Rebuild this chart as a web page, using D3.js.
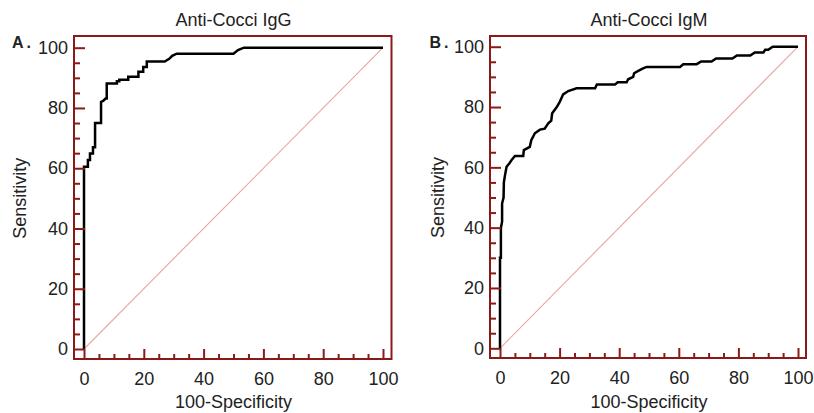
<!DOCTYPE html>
<html>
<head>
<meta charset="utf-8">
<script src="https://cdn.jsdelivr.net/npm/d3@7"></script>
<style>
  html, body { margin: 0; padding: 0; background: #fff; }
  svg { display: block; }
  text { font-family: "Liberation Sans", Arial, sans-serif; fill: #222; }
</style>
</head>
<body>
<svg id="chart" width="814" height="413"></svg>
<script>
// ---------- data ----------
const panelTitles = ["Anti-Cocci IgG", "Anti-Cocci IgM"];
const panelLetters = ["A.", "B."];
const xAxisTitle = "100-Specificity";
const yAxisTitle = "Sensitivity";
const majorTicks = [0, 20, 40, 60, 80, 100];
const minorTicks = [5, 10, 15, 25, 30, 35, 45, 50, 55, 65, 70, 75, 85, 90, 95];

// ROC curve of IgG: [100-Specificity, Sensitivity]
const rocIgG = [
  [0, 0], [0, 60.5], [1.3, 60.5], [1.3, 62.7], [2, 62.7], [2, 64.9], [3, 64.9], [3, 67],
  [3.7, 67], [3.7, 75], [5.7, 75], [5.7, 82], [6.5, 82.4], [7.2, 83.1], [7.6, 83.1], [7.6, 88.1],
  [11, 88.1], [11, 88.9], [11.8, 88.9], [11.8, 89.4], [14.8, 89.4], [14.8, 90.4], [18.2, 90.4],
  [18.2, 92], [19.8, 92], [19.8, 93.6], [21, 93.6], [21, 95.4], [27, 95.4], [28.5, 96.3],
  [29.5, 97.3], [31, 98], [50, 98], [51.5, 99.2], [53.5, 100], [100, 100]
];

// ROC curve of IgM: [100-Specificity, Sensitivity]
const rocIgM = [
  [0, 0], [0, 30], [0.3, 30], [0.3, 40], [0.7, 42], [0.7, 48], [1.2, 50], [1.3, 55],
  [1.7, 57.5], [2.2, 60.2], [3.1, 61.3], [3.9, 62.4], [5, 63.8], [7.8, 63.8], [8, 65.7],
  [10, 66.8], [10.5, 69], [11.7, 71.3], [13.4, 72.5], [15, 72.8], [16.2, 74.6], [17.2, 75.5],
  [17.5, 77.9], [19, 79.9], [20.1, 81.8], [21.2, 84.2], [22.9, 85.3], [25.7, 86.2], [31.9, 86.2],
  [32.5, 87.5], [38.6, 87.5], [39.5, 88.2], [42.5, 88.2], [43, 89.2], [44.7, 90], [45, 91.2],
  [46.4, 92], [48, 92.8], [49.2, 93.3], [60.4, 93.3], [61.5, 94.2], [66, 94.2], [67.5, 95.1],
  [71, 95.1], [72.5, 96.1], [78, 96.1], [79.5, 97.1], [84, 97.1], [85.5, 98.1], [88.4, 98.1],
  [89, 99], [90, 99], [91.5, 100], [100, 100]
];
const referenceLine = [[0, 0], [100, 100]];

// ---------- layout ----------
const frameColor = "#8a1a1a";
const panels = [
  { data: rocIgG, frame: { x0: 74, x1: 391.5, y0: 36, y1: 359 }, xr: [84, 383], yr: [349, 47.7], letterX: 12, yTitleX: 26 },
  { data: rocIgM, frame: { x0: 490, x1: 806, y0: 36, y1: 358 }, xr: [500, 798], yr: [348.3, 46.7], letterX: 429.5, yTitleX: 444 }
];

const svg = d3.select("#chart");

panels.forEach((p, i) => {
  const g = svg.append("g");
  const x = d3.scaleLinear().domain([0, 100]).range(p.xr);
  const y = d3.scaleLinear().domain([0, 100]).range(p.yr);
  const f = p.frame;

  // reference diagonal
  const line = d3.line().x(d => x(d[0])).y(d => y(d[1]));
  g.append("path").datum(referenceLine).attr("d", line)
    .attr("fill", "none").attr("stroke", "#e6a8a0").attr("stroke-width", 1.1);

  // ROC curve
  g.append("path").datum(p.data).attr("d", line)
    .attr("fill", "none").attr("stroke", "#000").attr("stroke-width", 2.5)
    .attr("stroke-linejoin", "miter");

  // axes: minor ticks
  const xMinor = g.append("g").attr("transform", `translate(0,${f.y1})`)
    .call(d3.axisBottom(x).tickValues(minorTicks).tickSize(-5).tickFormat(""));
  const xMajor = g.append("g").attr("transform", `translate(0,${f.y1})`)
    .call(d3.axisBottom(x).tickValues(majorTicks).tickSize(-10).tickPadding(13).tickFormat(d3.format("d")));
  const yMinor = g.append("g").attr("transform", `translate(${f.x0},0)`)
    .call(d3.axisLeft(y).tickValues(minorTicks).tickSize(-6).tickFormat(""));
  const yMajor = g.append("g").attr("transform", `translate(${f.x0},0)`)
    .call(d3.axisLeft(y).tickValues(majorTicks).tickSize(-11).tickPadding(6).tickFormat(d3.format("d")));

  [xMinor, xMajor, yMinor, yMajor].forEach(a => {
    a.select(".domain").remove();
    a.selectAll(".tick line").attr("stroke", frameColor).attr("stroke-width", 2);
    a.selectAll(".tick text").attr("font-size", 18).attr("fill", "#222")
      .attr("font-family", '"Liberation Sans", Arial, sans-serif');
  });

  // frame
  g.append("rect").attr("x", f.x0).attr("y", f.y0)
    .attr("width", f.x1 - f.x0).attr("height", f.y1 - f.y0)
    .attr("fill", "none").attr("stroke", frameColor).attr("stroke-width", 2);

  const cx = (p.xr[0] + p.xr[1]) / 2;
  const cy = (p.yr[0] + p.yr[1]) / 2;

  // title
  g.append("text").attr("x", cx).attr("y", 26).attr("text-anchor", "middle")
    .attr("font-size", 18).text(panelTitles[i]);

  // x title
  g.append("text").attr("x", cx).attr("y", 408).attr("text-anchor", "middle")
    .attr("font-size", 18).text(xAxisTitle);

  // y title
  g.append("text").attr("transform", `translate(${p.yTitleX},${cy}) rotate(-90)`)
    .attr("text-anchor", "middle").attr("font-size", 18).text(yAxisTitle);

  // panel letter
  g.append("text").attr("x", p.letterX).attr("y", 47.5)
    .attr("font-size", 16).attr("font-weight", "bold").attr("fill", "#111")
    .attr("letter-spacing", 3)
    .text(panelLetters[i]);
});
</script>
</body>
</html>
